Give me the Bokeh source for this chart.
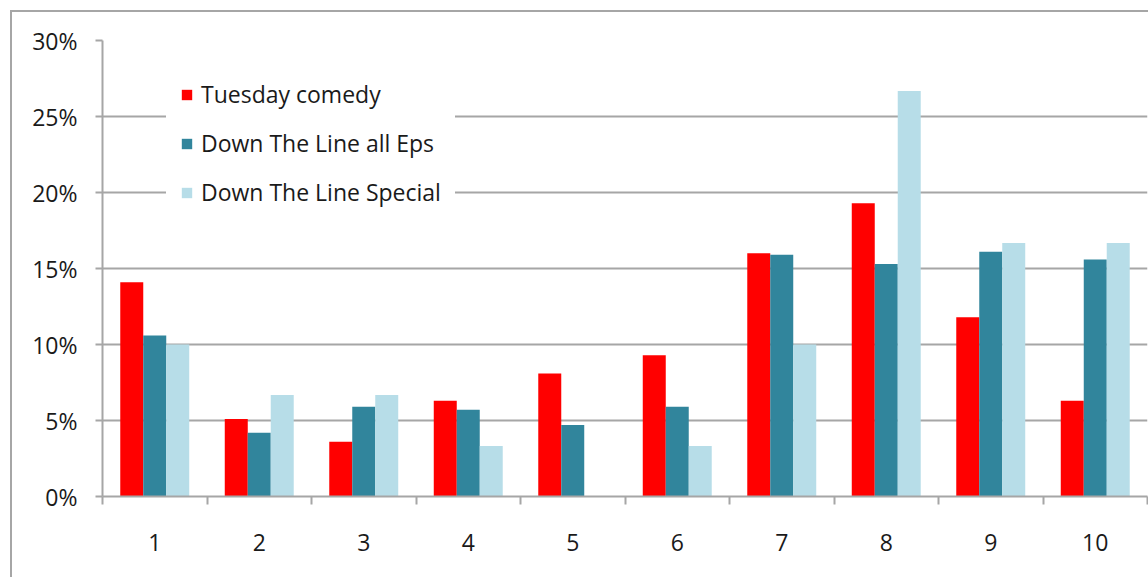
from bokeh.plotting import figure
from bokeh.models import (ColumnDataSource, FixedTicker, PrintfTickFormatter, Legend,
                          LegendItem, Range1d)
from bokeh.transform import dodge
from bokeh.embed import file_html
from bokeh.resources import INLINE

# ---- data ----
categories = ["1", "2", "3", "4", "5", "6", "7", "8", "9", "10"]
tuesday_comedy = [14.1, 5.1, 3.6, 6.3, 8.1, 9.3, 16.0, 19.3, 11.8, 6.3]
dtl_all_eps = [10.6, 4.2, 5.9, 5.7, 4.7, 5.9, 15.9, 15.3, 16.1, 15.6]
dtl_special = [10.0, 6.67, 6.67, 3.33, 0.0, 3.33, 10.0, 26.67, 16.67, 16.67]
series_names = ["Tuesday comedy", "Down The Line all Eps", "Down The Line Special"]
y_ticks = [0, 5, 10, 15, 20, 25, 30]

colors = ["#ff0000", "#31859c", "#b7dde8"]
FONT = "Open Sans"
FS = "23px"
GRID = "#a6a6a6"

xpos = list(range(1, len(categories) + 1))
source = ColumnDataSource(dict(x=xpos, a=tuesday_comedy, b=dtl_all_eps, c=dtl_special))

p = figure(width=1148, height=577, output_backend="svg", toolbar_location=None,
           x_range=Range1d(0.5, len(categories) + 0.5), y_range=Range1d(0, 30),
           min_border_left=102, min_border_top=40, min_border_bottom=81, min_border_right=1)

p.outline_line_color = None
p.background_fill_color = "white"
p.border_fill_alpha = 0
p.styles = {
    "background": ("linear-gradient(#a6a6a6,#a6a6a6) 10px 10px / 2px 100% no-repeat, "
                   "linear-gradient(#a6a6a6,#a6a6a6) 10px 10px / 100% 2px no-repeat, white"),
}

bw = 0.22
renderers = []
for key, off, col in zip(["a", "b", "c"], [-bw, 0, bw], colors):
    r = p.vbar(x=dodge("x", off, range=p.x_range), top=key, width=bw, source=source,
               fill_color=col, line_color=None)
    renderers.append(r)

# x axis: labels at centers, ticks at boundaries
xa = p.xaxis[0]
xa.ticker = FixedTicker(ticks=xpos, minor_ticks=[v + 0.5 for v in range(0, len(categories) + 1)])
xa.major_label_overrides = {i: c for i, c in zip(xpos, categories)}
xa.major_tick_out = 0
xa.major_tick_in = 0
xa.minor_tick_out = 8
xa.minor_tick_in = 0
xa.minor_tick_line_color = GRID
xa.minor_tick_line_width = 2
xa.axis_line_color = GRID
xa.axis_line_width = 2
xa.major_label_text_font = FONT
xa.major_label_text_font_size = FS
xa.major_label_text_color = "#1a1a1a"
xa.major_label_standoff = 29

ya = p.yaxis[0]
ya.ticker = FixedTicker(ticks=y_ticks)
ya.formatter = PrintfTickFormatter(format="%d%%")
ya.major_tick_out = 7
ya.major_tick_in = 0
ya.minor_tick_out = 0
ya.minor_tick_in = 0
ya.major_tick_line_color = GRID
ya.major_tick_line_width = 2
ya.axis_line_color = GRID
ya.axis_line_width = 2
ya.major_label_text_font = FONT
ya.major_label_text_font_size = FS
ya.major_label_text_color = "#1a1a1a"
ya.major_label_standoff = 18

p.xgrid.grid_line_color = None
p.ygrid.ticker = FixedTicker(ticks=y_ticks[1:])
p.ygrid.grid_line_color = GRID
p.ygrid.grid_line_width = 2

legend = Legend(items=[LegendItem(label=n, renderers=[r]) for n, r in zip(series_names, renderers)],
                location=(64, 274), orientation="vertical",
                glyph_width=13, glyph_height=13, label_height=20, spacing=17,
                label_standoff=8, padding=13, margin=0,
                label_text_font=FONT, label_text_font_size=FS, label_text_color="#1a1a1a",
                background_fill_color="white", background_fill_alpha=1.0,
                border_line_color="white", border_line_width=1)
p.add_layout(legend, "center")

open("out.html", "w").write(file_html(p, INLINE))
